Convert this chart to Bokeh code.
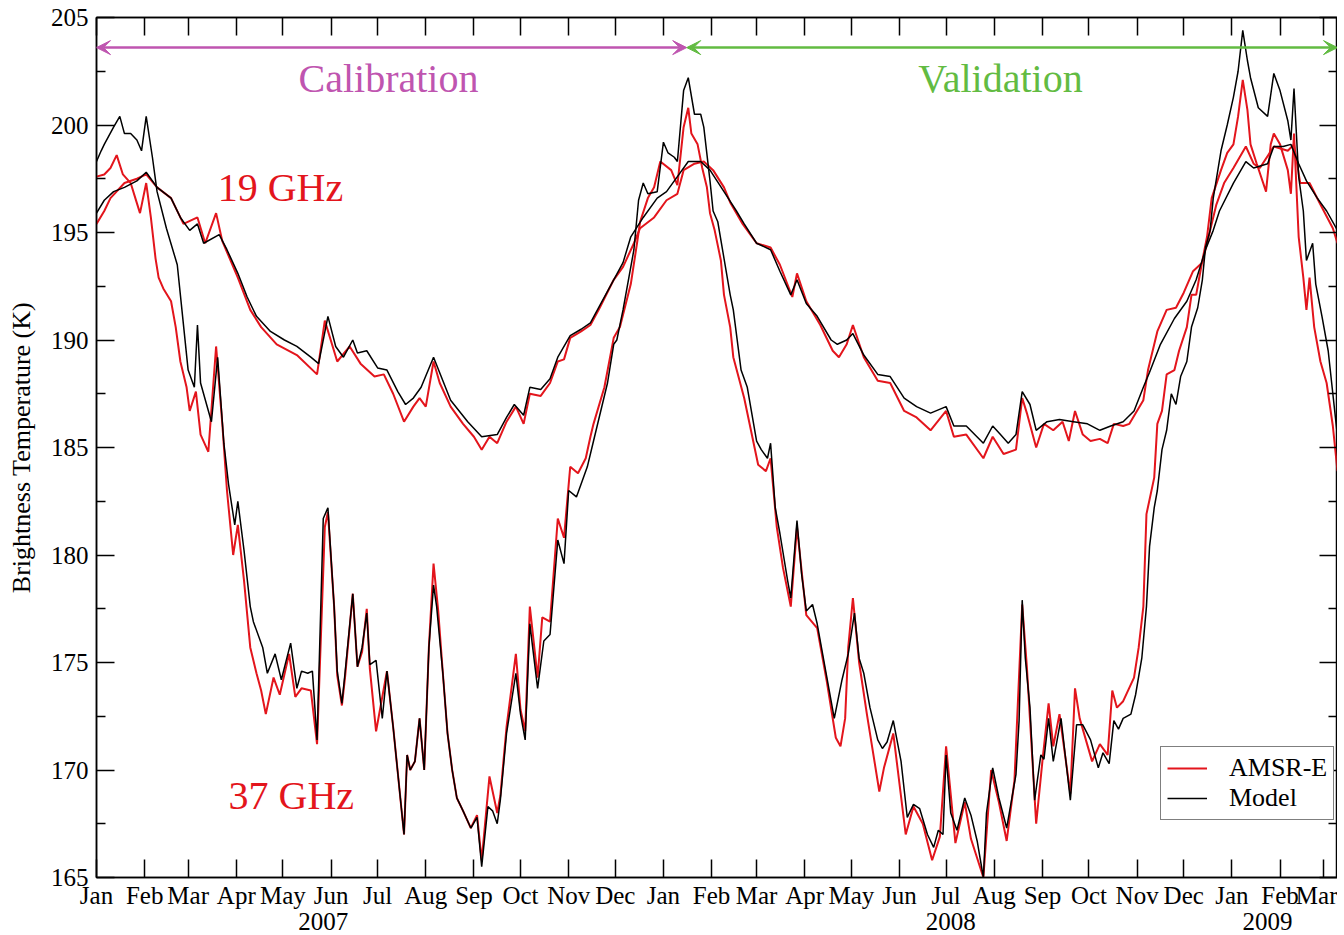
from bokeh.plotting import figure
from bokeh.models import (Range1d, LinearAxis, FixedTicker, Legend, LegendItem,
                          Arrow, VeeHead, Label)
from bokeh.embed import file_html
from bokeh.resources import INLINE

FONT = "Liberation Serif"
RED = "#E3151C"
MAG = "#BF55B0"
GRN = "#62BB42"

# ---------------- data (day index: days since 2007-01-01) ----------------
t19_amsr_day = [0, 5, 9, 18, 26, 32, 39, 48, 56, 65, 70, 77, 81, 91, 99, 106, 116, 129, 142, 147,
                155, 163, 170, 179, 185, 191, 198, 204, 208, 212, 217, 221, 228, 236, 243, 248, 253,
                258, 264, 270, 275, 279, 286, 292, 297, 301, 305, 312, 318, 324, 333, 339, 346, 350,
                359, 367, 374, 378, 385, 391, 397, 404, 408, 416, 425, 434, 440, 448, 451, 457, 466,
                474, 478, 483, 487, 494, 503, 511, 520, 528, 537, 547, 552, 560, 571, 577, 584, 592,
                596, 599, 605, 610, 616, 622, 626, 630, 635, 640, 646, 651, 655, 661, 665, 674, 677,
                683, 689, 695, 700, 706, 712, 717, 721, 726, 732, 740, 745, 749, 758, 767, 771, 775,
                781, 788, 796, 799]
t19_amsr_val = [195.4, 196.0, 196.6, 197.3, 197.5, 197.7, 197.1, 196.6, 195.4, 195.7, 194.5, 195.9,
                194.6, 192.9, 191.4, 190.6, 189.8, 189.3, 188.4, 190.9, 189.0, 189.7, 188.9, 188.3,
                188.4, 187.5, 186.2, 186.9, 187.3, 186.9, 189.0, 188.0, 186.9, 186.1, 185.5, 184.9,
                185.5, 185.2, 186.2, 186.9, 186.1, 187.5, 187.4, 188.0, 189.0, 189.1, 190.1, 190.4,
                190.7, 191.5, 192.8, 193.4, 194.5, 195.2, 195.7, 196.5, 196.8, 197.9, 198.2, 198.3,
                197.9, 197.1, 196.4, 195.4, 194.5, 194.3, 193.5, 192.0, 193.1, 191.8, 190.7, 189.5,
                189.2, 189.8, 190.7, 189.2, 188.1, 188.0, 186.7, 186.4, 185.8, 186.7, 185.5, 185.6,
                184.5, 185.5, 184.7, 184.9, 187.3, 186.6, 185.0, 186.1, 185.8, 186.2, 185.3, 186.7,
                185.6, 185.3, 185.4, 185.2, 186.1, 186.0, 186.1, 187.2, 188.6, 190.4, 191.4, 191.5,
                192.2, 193.2, 193.6, 195.1, 196.3, 197.3, 198.0, 199.0, 198.2, 198.0, 199.0, 198.8,
                199.1, 197.3, 197.3, 196.3, 195.2, 194.5]

t19_model_day = [0, 5, 11, 18, 26, 32, 39, 48, 54, 60, 65, 69, 79, 84, 91, 97, 103, 112, 121, 129,
                 138, 143, 149, 154, 159, 165, 168, 174, 181, 187, 194, 199, 204, 209, 217, 228, 239,
                 248, 258, 264, 269, 275, 279, 286, 292, 297, 305, 312, 318, 324, 333, 339, 344, 352,
                 361, 367, 374, 381, 389, 395, 404, 412, 417, 425, 434, 440, 447, 451, 457, 464, 473,
                 477, 483, 487, 494, 503, 511, 520, 528, 537, 547, 552, 560, 571, 577, 582, 587, 592,
                 596, 601, 605, 612, 620, 629, 638, 646, 653, 661, 668, 674, 678, 685, 694, 702, 708,
                 714, 719, 723, 732, 740, 745, 754, 758, 764, 769, 774, 779, 786, 792, 799]
t19_model_val = [195.9, 196.5, 196.9, 197.1, 197.4, 197.8, 197.1, 196.6, 195.7, 195.1, 195.4, 194.5,
                 194.9, 194.2, 193.1, 192.0, 191.1, 190.4, 190.0, 189.7, 189.2, 188.9, 191.1, 189.7,
                 189.2, 190.0, 189.4, 189.5, 188.7, 188.6, 187.6, 187.0, 187.3, 187.8, 189.2, 187.2,
                 186.2, 185.5, 185.6, 186.4, 187.0, 186.5, 187.8, 187.7, 188.2, 189.2, 190.2, 190.5,
                 190.8, 191.6, 192.8, 193.6, 194.8, 195.7, 196.6, 196.9, 197.6, 198.3, 198.3, 197.9,
                 196.9, 196.0, 195.4, 194.5, 194.2, 193.2, 192.1, 192.8, 191.7, 191.1, 190.0, 189.8,
                 190.0, 190.3, 189.3, 188.4, 188.3, 187.3, 186.9, 186.6, 186.9, 186.0, 186.0, 185.2,
                 186.0, 185.6, 185.2, 185.6, 187.6, 187.0, 185.8, 186.2, 186.3, 186.2, 186.1, 185.8,
                 186.0, 186.2, 186.7, 187.8, 188.5, 189.8, 191.0, 191.8, 192.8, 194.2, 195.1, 196.0,
                 197.3, 198.3, 198.0, 198.2, 199.0, 199.0, 199.1, 198.2, 197.4, 196.6, 196.0, 195.1]

t37_amsr_day = [0, 5, 9, 13, 17, 22, 25, 28, 32, 35, 38, 40, 43, 48, 51, 54, 58, 60, 64, 67, 72, 77,
                81, 84, 88, 91, 95, 99, 103, 106, 109, 114, 118, 124, 128, 132, 138, 142, 147, 149,
                153, 155, 158, 160, 165, 168, 171, 174, 176, 180, 187, 191, 198, 200, 202, 205, 208,
                211, 214, 217, 220, 223, 226, 229, 232, 236, 241, 245, 248, 253, 258, 260, 264, 270,
                273, 276, 279, 284, 287, 292, 297, 301, 305, 310, 315, 318, 320, 327, 333, 337, 344,
                348, 350, 355, 359, 363, 370, 374, 378, 381, 383, 387, 390, 393, 395, 398, 402, 404,
                408, 410, 417, 426, 431, 434, 438, 442, 447, 451, 457, 464, 470, 476, 479, 482, 484,
                487, 491, 496, 504, 507, 513, 521, 526, 532, 538, 543, 547, 553, 559, 563, 571, 576,
                581, 586, 591, 596, 599, 605, 609, 613, 616, 620, 627, 630, 633, 641, 646, 651, 654,
                657, 661, 668, 671, 674, 676, 681, 683, 686, 689, 694, 697, 702, 705, 708, 712, 715,
                718, 724, 728, 732, 735, 738, 741, 743, 747, 753, 756, 758, 762, 767, 769, 771, 774,
                777, 779, 781, 784, 788, 792, 796, 799]
t37_amsr_val = [197.6, 197.7, 198.0, 198.6, 197.7, 197.3, 196.6, 195.9, 197.3, 195.7, 193.8, 192.9,
                192.4, 191.8, 190.6, 189.0, 187.8, 186.7, 187.6, 185.6, 184.8, 189.7, 186.1, 183.0,
                180.0, 181.4, 178.8, 175.7, 174.5, 173.7, 172.6, 174.3, 173.5, 175.4, 173.4, 173.8,
                173.7, 171.2, 181.3, 182.0, 177.6, 174.4, 173.0, 174.3, 178.2, 174.8, 175.5, 177.5,
                174.7, 171.8, 174.6, 172.0, 167.0, 170.7, 170.0, 170.4, 172.4, 170.0, 175.7, 179.6,
                177.4, 174.5, 171.7, 170.0, 168.7, 168.1, 167.3, 167.9, 165.8, 169.7, 168.0, 168.8,
                172.0, 175.4, 172.8, 171.8, 177.6, 174.3, 177.1, 176.9, 181.7, 180.8, 184.1, 183.8,
                184.5, 185.5, 186.1, 187.8, 190.1, 190.6, 192.6, 194.5, 195.5, 196.6, 197.1, 198.3,
                197.9, 197.2, 199.9, 200.8, 199.6, 199.1, 198.0, 197.1, 195.9, 195.1, 193.7, 192.1,
                190.6, 189.2, 187.3, 184.2, 183.9, 184.5, 181.3, 179.4, 177.6, 181.3, 177.2, 176.6,
                174.2, 171.5, 171.1, 172.4, 175.7, 178.0, 175.0, 172.6, 169.0, 170.1, 171.7, 167.0,
                168.3, 167.5, 165.8, 166.9, 171.1, 166.6, 168.5, 166.8, 165.0, 170.0, 168.5, 166.7,
                169.5, 177.7, 174.8, 167.5, 170.4, 173.1, 171.1, 172.6, 168.9, 173.8, 172.4, 170.4,
                171.2, 170.7, 173.7, 172.9, 173.2, 174.3, 175.7, 177.6, 181.9, 183.6, 186.1, 186.7,
                188.4, 188.6, 189.5, 190.6, 192.1, 192.1, 193.7, 194.8, 196.6, 197.9, 198.7, 199.1,
                200.4, 202.1, 200.7, 199.1, 198.2, 196.9, 199.1, 199.6, 199.1, 197.9, 196.8, 199.6,
                194.8, 192.9, 191.4, 192.9, 190.6, 189.0, 188.0, 186.0, 183.9]

t37_model_day = [0, 3, 5, 11, 15, 18, 22, 26, 29, 32, 36, 39, 45, 52, 55, 59, 63, 65, 67, 74, 78, 82,
                 85, 89, 91, 95, 99, 101, 107, 110, 115, 119, 125, 129, 132, 136, 139, 142, 146, 149,
                 153, 155, 158, 160, 165, 168, 171, 174, 176, 180, 184, 187, 191, 198, 200, 202, 205,
                 208, 211, 214, 217, 219, 223, 226, 229, 232, 236, 241, 245, 248, 252, 255, 258, 260,
                 264, 270, 273, 276, 279, 284, 288, 292, 297, 301, 304, 309, 313, 316, 320, 329, 333,
                 335, 339, 346, 349, 352, 355, 361, 365, 368, 372, 374, 378, 381, 385, 389, 391, 395,
                 397, 400, 404, 408, 410, 415, 419, 425, 428, 432, 434, 437, 440, 445, 447, 451, 454,
                 457, 461, 464, 469, 475, 480, 484, 488, 491, 494, 498, 503, 506, 509, 513, 518, 522,
                 526, 530, 535, 539, 542, 545, 547, 550, 554, 559, 563, 567, 571, 573, 577, 581, 586,
                 592, 594, 596, 598, 601, 604, 608, 610, 613, 616, 621, 627, 631, 635, 640, 645, 648,
                 652, 655, 658, 661, 666, 669, 673, 676, 678, 681, 683, 686, 689, 692, 695, 698, 702,
                 705, 709, 712, 714, 717, 719, 724, 728, 732, 735, 738, 741, 743, 748, 754, 758, 762,
                 767, 769, 771, 774, 777, 779, 783, 785, 789, 793, 796, 799]
t37_model_val = [198.3, 198.8, 199.1, 199.9, 200.4, 199.6, 199.6, 199.3, 198.8, 200.4, 198.5, 196.9,
                 195.2, 193.5, 191.4, 188.6, 187.8, 190.7, 188.0, 186.2, 189.2, 185.2, 183.3, 181.4,
                 182.5, 180.2, 177.6, 176.9, 175.7, 174.5, 175.4, 174.2, 175.9, 173.8, 174.6, 174.5,
                 174.6, 171.4, 181.7, 182.2, 177.6, 174.6, 173.1, 174.5, 178.2, 174.8, 175.7, 177.3,
                 174.9, 175.1, 172.4, 174.6, 172.0, 167.0, 170.7, 170.0, 170.4, 172.4, 170.0, 175.7,
                 178.6, 177.6, 174.5, 171.7, 170.0, 168.7, 168.1, 167.3, 167.8, 165.5, 168.3, 168.1,
                 167.5, 168.6, 171.7, 174.5, 172.6, 171.4, 176.8, 173.8, 176.0, 176.3, 180.7, 179.6,
                 183.0, 182.7, 183.5, 184.1, 185.3, 188.0, 189.8, 190.0, 191.4, 194.2, 196.5, 197.3,
                 196.8, 196.9, 199.2, 198.7, 198.5, 198.3, 201.6, 202.2, 200.5, 200.5, 199.9, 197.4,
                 196.0, 195.5, 193.8, 192.1, 191.4, 188.6, 187.8, 185.3, 184.9, 184.5, 185.2, 182.2,
                 181.0, 178.8, 178.0, 181.6, 179.1, 177.4, 177.7, 176.8, 174.8, 172.4, 174.2, 175.4,
                 177.3, 175.2, 174.5, 172.9, 171.4, 171.0, 171.3, 172.3, 170.4, 167.8, 168.4, 168.2,
                 167.0, 166.4, 167.2, 167.0, 170.7, 168.0, 167.2, 168.7, 167.9, 166.7, 165.0, 168.0,
                 170.1, 168.7, 167.3, 169.8, 172.3, 177.9, 175.2, 172.9, 168.6, 170.7, 170.5, 172.4,
                 170.4, 172.4, 168.6, 172.1, 172.1, 171.4, 170.1, 170.8, 170.3, 172.3, 171.9, 172.4,
                 172.6, 173.5, 175.2, 177.6, 180.4, 182.2, 183.0, 184.9, 185.8, 187.5, 187.0, 188.3,
                 189.0, 190.6, 191.5, 192.8, 194.3, 195.1, 196.6, 198.8, 200.0, 201.3, 202.5, 204.4,
                 203.0, 202.2, 200.8, 200.4, 202.4, 201.6, 200.2, 199.3, 201.7, 197.6, 196.0, 193.7,
                 194.5, 192.6, 191.1, 189.5, 187.5, 185.5]

month_ticks = [0, 31, 59, 90, 120, 151, 181, 212, 243, 273, 304, 334,
               365, 396, 425, 456, 486, 517, 547, 578, 609, 639, 670, 700,
               731, 762, 790]
month_labels = ["Jan", "Feb", "Mar", "Apr", "May", "Jun", "Jul", "Aug", "Sep", "Oct", "Nov", "Dec",
                "Jan", "Feb", "Mar", "Apr", "May", "Jun", "Jul", "Aug", "Sep", "Oct", "Nov", "Dec",
                "Jan", "Feb", "Mar"]
year_pos = [146, 550, 754]
year_labels = ["2007", "2008", "2009"]
y_ticks = [165, 170, 175, 180, 185, 190, 195, 200, 205]
y_minor = [167.5, 172.5, 177.5, 182.5, 187.5, 192.5, 197.5, 202.5]

calib_end = 380
x_max = 799

# ---------------- figure ----------------
p = figure(frame_width=1241, frame_height=860,
           x_range=Range1d(0, x_max), y_range=Range1d(165, 205),
           x_axis_location=None, y_axis_location=None,
           output_backend="svg", toolbar_location=None,
           min_border_left=96, min_border_right=0, min_border_top=17, min_border_bottom=58)
p.grid.visible = False
p.outline_line_color = "black"
p.outline_line_width = 1.5
p.background_fill_color = "white"
p.border_fill_color = "white"


def style(ax, size="25px", labels=True):
    ax.major_label_text_font = FONT
    ax.major_label_text_color = "black"
    ax.axis_line_color = "black"
    ax.axis_line_width = 1.5
    ax.major_tick_line_color = "black"
    ax.major_tick_line_width = 1.5
    ax.minor_tick_line_color = "black"
    ax.minor_tick_line_width = 1.5
    ax.major_tick_in = 18
    ax.major_tick_out = 0
    ax.minor_tick_in = 9
    ax.minor_tick_out = 0
    if labels:
        ax.major_label_text_font_size = size
    else:
        ax.major_label_text_font_size = "1px"
        ax.major_label_text_color = None
        ax.major_label_standoff = 0


xa = LinearAxis(ticker=FixedTicker(ticks=month_ticks, minor_ticks=[]),
                major_label_overrides={t: l for t, l in zip(month_ticks, month_labels)})
style(xa)
xa.major_label_standoff = 4
p.add_layout(xa, "below")

yr = LinearAxis(ticker=FixedTicker(ticks=year_pos, minor_ticks=[]),
                major_label_overrides={t: l for t, l in zip(year_pos, year_labels)})
yr.major_label_text_font = FONT
yr.major_label_text_font_size = "25px"
yr.major_label_text_color = "black"
yr.axis_line_color = None
yr.major_tick_line_color = None
yr.minor_tick_line_color = None
yr.major_label_standoff = -5
p.add_layout(yr, "below")

xt = LinearAxis(ticker=FixedTicker(ticks=month_ticks, minor_ticks=[]))
style(xt, labels=False)
p.add_layout(xt, "above")

ya = LinearAxis(ticker=FixedTicker(ticks=y_ticks, minor_ticks=y_minor),
                axis_label="Brightness Temperature (K)")
style(ya)
ya.major_label_standoff = 8
ya.axis_label_text_font = FONT
ya.axis_label_text_font_size = "26px"
ya.axis_label_text_font_style = "normal"
ya.axis_label_text_color = "black"
ya.axis_label_standoff = 12
p.add_layout(ya, "left")

yright = LinearAxis(ticker=FixedTicker(ticks=y_ticks, minor_ticks=y_minor))
style(yright, labels=False)
p.add_layout(yright, "right")

# ---------------- series ----------------
r19a = p.line(t19_amsr_day, t19_amsr_val, line_color=RED, line_width=2)
r37a = p.line(t37_amsr_day, t37_amsr_val, line_color=RED, line_width=2)
r19m = p.line(t19_model_day, t19_model_val, line_color="black", line_width=1.5)
r37m = p.line(t37_model_day, t37_model_val, line_color="black", line_width=1.5)

# ---------------- annotations ----------------
arrow_y = 203.6
p.add_layout(Arrow(start=VeeHead(size=14, fill_color=MAG, line_color=MAG),
                   end=VeeHead(size=14, fill_color=MAG, line_color=MAG),
                   x_start=0, y_start=arrow_y, x_end=calib_end, y_end=arrow_y,
                   line_color=MAG, line_width=2.5))
p.add_layout(Arrow(start=VeeHead(size=14, fill_color=GRN, line_color=GRN),
                   end=VeeHead(size=14, fill_color=GRN, line_color=GRN),
                   x_start=calib_end, y_start=arrow_y, x_end=x_max, y_end=arrow_y,
                   line_color=GRN, line_width=2.5))

p.add_layout(Label(x=188, y=202.15, text="Calibration", text_font=FONT, text_font_size="40px",
                   text_color=MAG, text_align="center", text_baseline="middle"))
p.add_layout(Label(x=582, y=202.15, text="Validation", text_font=FONT, text_font_size="40px",
                   text_color=GRN, text_align="center", text_baseline="middle"))
p.add_layout(Label(x=78, y=197.1, text="19 GHz", text_font=FONT, text_font_size="40px",
                   text_color=RED, text_align="left", text_baseline="middle"))
p.add_layout(Label(x=85, y=168.8, text="37 GHz", text_font=FONT, text_font_size="40px",
                   text_color=RED, text_align="left", text_baseline="middle"))

legend = Legend(items=[LegendItem(label="AMSR-E", renderers=[r19a]),
                       LegendItem(label="Model", renderers=[r19m])],
                location=(1064, 57), label_text_font=FONT, label_text_font_size="26px",
                label_text_color="black",
                glyph_width=40, glyph_height=20, label_standoff=22, padding=6, spacing=0,
                border_line_color="black", border_line_width=1.5, background_fill_color="white",
                background_fill_alpha=1.0, margin=0)
p.add_layout(legend)

open("out.html", "w").write(file_html(p, INLINE))
